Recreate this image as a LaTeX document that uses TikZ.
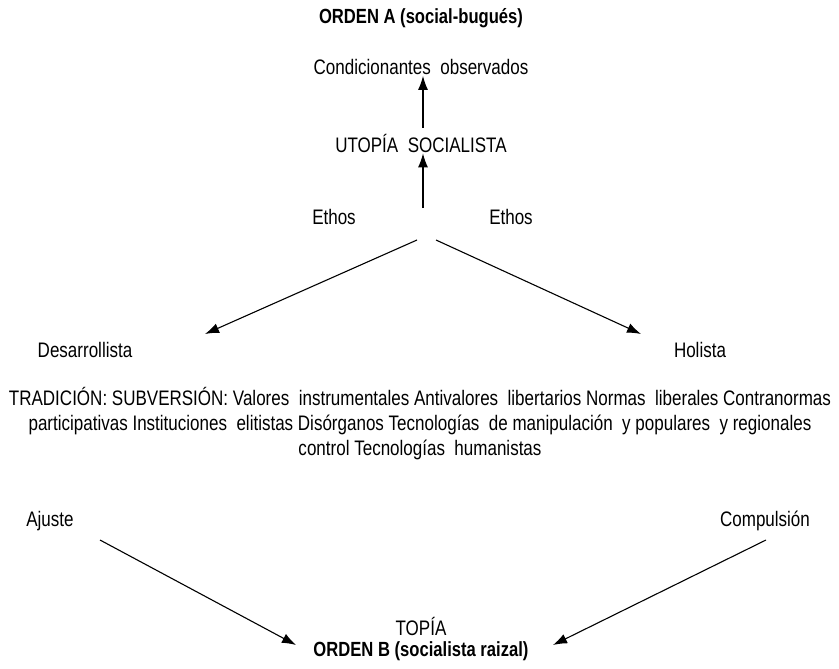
\documentclass[tikz,border=0pt]{standalone}
\usepackage{fontspec}
\setmainfont[FakeStretch=0.81]{Liberation Sans}
\usetikzlibrary{arrows.meta}
\tikzset{
  lbl/.style={inner sep=1pt, font=\fontsize{21}{24}\selectfont},
  ttl/.style={inner sep=1pt, font=\fontsize{20.5}{24}\selectfont\bfseries},
  arr/.style={line width=1.1pt, -{Latex[length=14pt,width=10pt]}},
}
\begin{document}
\begin{tikzpicture}[x=1pt,y=-1pt]
\useasboundingbox (0,0) rectangle (839,669);
\node[ttl] (oa) at (421,18) {ORDEN A (social-bugués)};
\node[lbl] (cond) at (421,67) {Condicionantes\ \ observados};
\node[lbl] (uto) at (421,143) {UTOPÍA\ \ SOCIALISTA};
\node[lbl] (eth1) at (334,217) {Ethos};
\node[lbl] (eth2) at (511,217) {Ethos};
\node[lbl] (des) at (85,350) {Desarrollista};
\node[lbl] (hol) at (700,350) {Holista};
\node[lbl, align=center] (par) at (420,424) {TRADICIÓN: SUBVERSIÓN: Valores\ \ instrumentales Antivalores\ \ libertarios Normas\ \ liberales Contranormas\\[1pt]
participativas Instituciones\ \ elitistas Disórganos Tecnologías\ \ de manipulación\ \ y populares\ \ y regionales\\[1pt]
control Tecnologías\ \ humanistas};
\node[lbl] (aju) at (50,521) {Ajuste};
\node[lbl] (com) at (765,521) {Compulsión};
\node[lbl] (top) at (421,626) {TOPÍA};
\node[ttl] (ob) at (421,651) {ORDEN B (socialista raizal)};
\coordinate (s1) at (423,128);
\coordinate (s2) at (423,208);
\coordinate (apL) at (417,240);
\coordinate (apR) at (436,240);
\coordinate (endL) at (205,334);
\coordinate (endR) at (641,334);
\coordinate (ajS) at (100,540);
\coordinate (coS) at (766,540);
\coordinate (obL) at (296,645);
\coordinate (obR) at (553,645);
\draw[arr] (s1) -- (s1 |- cond.south);
\draw[arr] (s2) -- (s2 |- uto.south);
\draw[arr] (apL) -- (endL);
\draw[arr] (apR) -- (endR);
\draw[arr] (ajS) -- (obL);
\draw[arr] (coS) -- (obR);
\end{tikzpicture}
\end{document}
